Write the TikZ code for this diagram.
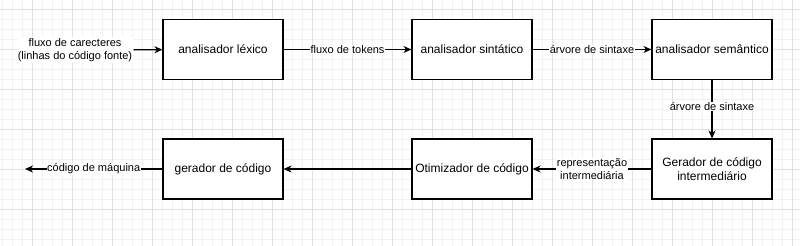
\documentclass[tikz,border=0pt]{standalone}
\usepackage{fontspec}
\setmainfont{Liberation Sans}
\usetikzlibrary{arrows.meta}

\definecolor{gridminor}{HTML}{F2F2F2}
\definecolor{gridmajor}{HTML}{E0E0E0}

\begin{document}
\begin{tikzpicture}[x=1pt,y=-1pt,
    every node/.style={font=\fontsize{12}{14}\selectfont},
    phase/.style={rectangle,draw,line width=1.1pt,fill=white,minimum width=120pt,minimum height=60pt,align=center,inner sep=2pt},
    flow/.style={line width=1.1pt,-{Stealth[length=8pt,width=7pt,inset=2.5pt]}},
    lbl/.style={fill=white,inner sep=0.5pt,align=center,font=\fontsize{11}{13.5}\selectfont}]
  \useasboundingbox (0,0) rectangle (800,246);
  % grid
  \foreach \gx in {2,12,...,800} \draw[gridminor,line width=0.6pt] (\gx,0) -- (\gx,246);
  \foreach \gy in {9,19,...,246} \draw[gridminor,line width=0.6pt] (0,\gy) -- (800,\gy);
  \foreach \gx in {32,72,...,800} \draw[gridmajor,line width=0.6pt] (\gx,0) -- (\gx,246);
  \foreach \gy in {9,49,...,246} \draw[gridmajor,line width=0.6pt] (0,\gy) -- (800,\gy);

  \node[phase] (lex) at (223,49.5) {analisador léxico};
  \node[phase] (sin) at (472,49.5) {analisador sintático};
  \node[phase] (sem) at (712,49.5) {analisador semântico};
  \node[phase] (gci) at (712,169) {Gerador de código\\intermediário};
  \node[phase] (otm) at (472,169) {Otimizador de código};
  \node[phase] (gc) at (223,169) {gerador de código};
  \node[lbl,inner sep=1pt] (src) at (75,50) {fluxo de carecteres\\(linhas do código fonte)};
  \coordinate (out) at (25,169);

  \draw[flow] (src) -- (lex);
  \draw[flow] (lex) -- node[lbl] {fluxo de tokens} (sin);
  \draw[flow] (sin) -- node[lbl] {árvore de sintaxe} (sem);
  \draw[flow] (sem) -- node[lbl,pos=0.45] {árvore de sintaxe} (gci);
  \draw[flow] (gci) -- node[lbl] {representação\\intermediária} (otm);
  \draw[flow] (otm) -- (gc);
  \draw[flow] (gc) -- node[lbl] {código de máquina} (out);
\end{tikzpicture}
\end{document}
